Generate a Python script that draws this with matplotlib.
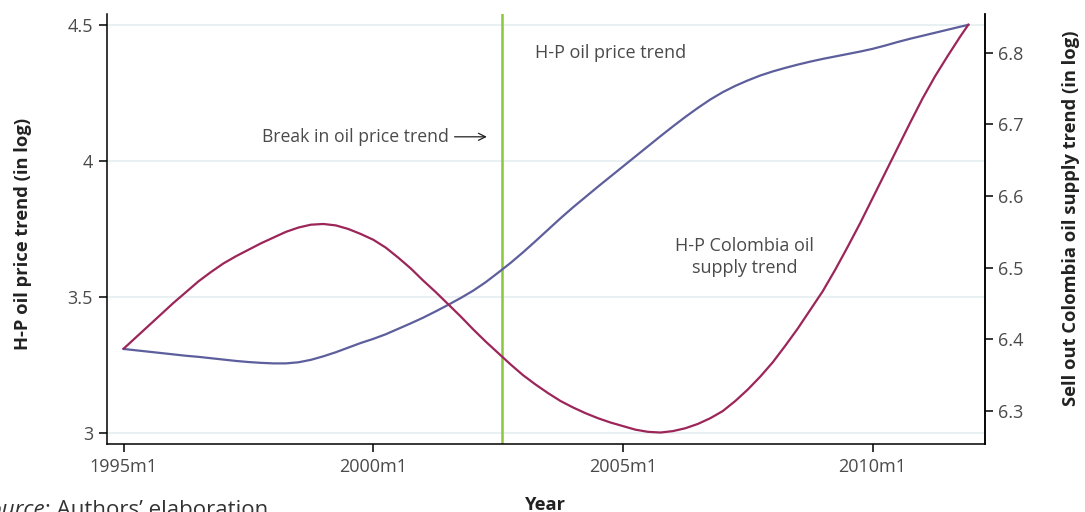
import matplotlib.pyplot as plt
import numpy as np

plt.rcParams['font.family'] = ['Open Sans', 'DejaVu Sans']

# months since 1995m1, quarterly up to 2011m12
months = list(range(0, 202, 3)) + [203]

# H-P filtered oil price trend (log), left axis
oil_price = [3.310, 3.305, 3.300, 3.295, 3.290, 3.285, 3.281, 3.276, 3.271,
             3.266, 3.262, 3.259, 3.257, 3.257, 3.261, 3.270, 3.283, 3.298,
             3.315, 3.332, 3.347, 3.364, 3.384, 3.404, 3.425, 3.448, 3.472,
             3.497, 3.524, 3.555, 3.590, 3.626, 3.665, 3.706, 3.748, 3.790,
             3.830, 3.868, 3.906, 3.943, 3.980, 4.017, 4.054, 4.091, 4.127,
             4.162, 4.195, 4.226, 4.253, 4.276, 4.296, 4.314, 4.329, 4.342,
             4.354, 4.365, 4.375, 4.384, 4.393, 4.402, 4.412, 4.424, 4.437,
             4.449, 4.460, 4.471, 4.482, 4.493, 4.500]

# H-P filtered Colombia oil supply trend (log), right axis
oil_supply = [6.387, 6.403, 6.419, 6.435, 6.451, 6.466, 6.481, 6.494, 6.506,
              6.516, 6.525, 6.534, 6.542, 6.550, 6.556, 6.560, 6.561, 6.559,
              6.554, 6.547, 6.539, 6.528, 6.514, 6.499, 6.482, 6.466, 6.449,
              6.432, 6.414, 6.397, 6.381, 6.365, 6.350, 6.337, 6.325, 6.314,
              6.305, 6.297, 6.290, 6.284, 6.279, 6.274, 6.271, 6.270, 6.272,
              6.276, 6.282, 6.290, 6.300, 6.314, 6.330, 6.348, 6.368, 6.391,
              6.415, 6.441, 6.467, 6.497, 6.529, 6.562, 6.597, 6.632, 6.667,
              6.702, 6.736, 6.767, 6.795, 6.822, 6.839]

break_month = 91  # 2002m8
xticks = [0, 60, 120, 180]
xlabels = ['1995m1', '2000m1', '2005m1', '2010m1']
left_ticks = [3, 3.5, 4, 4.5]
right_ticks = [6.3, 6.4, 6.5, 6.6, 6.7, 6.8]

txt = '#4a4a4a'
fs = 13
fig = plt.figure(figsize=(10.85, 5.12), dpi=100)
ax = fig.add_axes([0.0986, 0.1328, 0.8088, 0.8399])
ax2 = ax.twinx()

for yv in left_ticks:
    ax.axhline(yv, color='#e4eef0', lw=1.2, zorder=0)

ax.plot(months, oil_price, color='#5d5e9c', lw=1.6, zorder=3)
ax2.plot(months, oil_supply, color='#9c2559', lw=1.6, zorder=3)
ax.axvline(break_month, color='#8cc63f', lw=1.8, zorder=2)

ax.set_xlim(-4, 206.9)
ax.set_ylim(2.961, 4.540)
ax2.set_ylim(6.254, 6.854)

ax.set_xticks(xticks)
ax.set_xticklabels(xlabels)
ax.set_yticks(left_ticks)
ax.set_yticklabels(['3', '3.5', '4', '4.5'])
ax2.set_yticks(right_ticks)
ax2.set_yticklabels(['%.1f' % t for t in right_ticks])

for a in (ax, ax2):
    a.spines['top'].set_visible(False)
    for s in a.spines.values():
        s.set_color('black')
        s.set_linewidth(1.1)
    a.tick_params(length=6, width=1.1, color='black', labelcolor=txt,
                  labelsize=fs, pad=4)
ax2.spines['left'].set_visible(False)
ax2.spines['bottom'].set_visible(False)

fig.text(23 / 1085, 1 - 234 / 512, 'H-P oil price trend (in log)',
         rotation=90, ha='center', va='center', fontsize=13.2,
         fontweight='bold', color='#222222')
fig.text(1071 / 1085, 1 - 218 / 512,
         'Sell out Colombia oil supply trend (in log)', rotation=90,
         ha='center', va='center', fontsize=13.2, fontweight='bold',
         color='#222222')
fig.text(545 / 1085, 1 - 505 / 512, 'Year', ha='center', va='center',
         fontsize=13.2, fontweight='bold', color='#222222')

# source note: italic "Source" followed by regular text
src = fig.text(268 / 1085, 1 - 511 / 512, ': Authors\u2019 elaboration',
               ha='right', va='center', fontsize=16, color='#333333')
renderer = fig.canvas.get_renderer()
bb = src.get_window_extent(renderer)
fig.text(bb.x0 / fig.bbox.width, 1 - 511 / 512, 'Source', style='italic',
         ha='right', va='center', fontsize=16, color='#333333')

ax.text(98.8, 4.397, 'H-P oil price trend', ha='left', va='center',
        fontsize=fs, color=txt)
ax.annotate('Break in oil price trend', xy=(87.3, 4.089), xytext=(78.2, 4.089),
            ha='right', va='center', fontsize=12.7, color=txt,
            arrowprops=dict(arrowstyle='->', color='#222222', lw=0.9,
                            shrinkA=2, shrinkB=0))
ax.text(149.3, 3.648, 'H-P Colombia oil\nsupply trend', ha='center',
        va='center', fontsize=fs, color=txt, linespacing=1.25)

plt.savefig('out.png', dpi=100)
